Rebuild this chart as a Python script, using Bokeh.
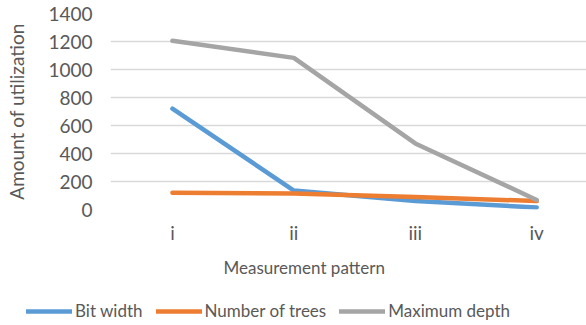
from bokeh.plotting import figure
from bokeh.models import Range1d, FixedTicker, Legend, LegendItem, Title
from bokeh.embed import file_html
from bokeh.resources import INLINE

categories = ["i", "ii", "iii", "iv"]
bit_width = [720, 135, 60, 15]
number_of_trees = [120, 115, 90, 60]
maximum_depth = [1205, 1083, 472, 68]
y_ticks = [0, 200, 400, 600, 800, 1000, 1200, 1400]
series_names = ["Bit width", "Number of trees", "Maximum depth"]
series_colors = ["#5B9BD5", "#ED7D31", "#A5A5A5"]

FONT = "Lato"
TXT = "#595959"
FS = "19px"
FS2 = "17px"

xs = list(range(len(categories)))
series_values = [bit_width, number_of_trees, maximum_depth]

p = figure(width=586, height=290, output_backend="svg", toolbar_location=None,
           x_range=Range1d(-0.51, 3.41), y_range=Range1d(0, 1400),
           min_border_left=110, min_border_right=0, min_border_top=13,
           min_border_bottom=81)
p.outline_line_color = None
p.background_fill_color = "white"
p.border_fill_color = "white"

for vals, col in zip(series_values, series_colors):
    p.line(xs, vals, line_color=col, line_width=4.5, line_cap="round", line_join="round")

p.xaxis.ticker = FixedTicker(ticks=xs)
p.xaxis.major_label_overrides = {i: c for i, c in zip(xs, categories)}
p.yaxis.ticker = FixedTicker(ticks=y_ticks)
p.xgrid.grid_line_color = None
p.ygrid.ticker = FixedTicker(ticks=y_ticks)
p.ygrid.grid_line_color = "#D9D9D9"
p.ygrid.grid_line_width = 1.3

for ax in (p.xaxis, p.yaxis):
    ax.axis_line_color = None
    ax.major_tick_line_color = None
    ax.minor_tick_line_color = None
    ax.major_label_text_font = FONT
    ax.major_label_text_font_size = FS
    ax.major_label_text_color = TXT
    ax.axis_label_text_font = FONT
    ax.axis_label_text_font_size = FS
    ax.axis_label_text_font_style = "normal"
    ax.axis_label_text_color = TXT

p.yaxis.major_label_standoff = 12
p.yaxis.axis_label = "Amount of utilization"
p.yaxis.axis_label_standoff = 17
p.xaxis.major_label_standoff = 5

xtitle = Title(text="Measurement pattern", align="left", offset=113,
               text_font=FONT, text_font_size=FS2, text_font_style="normal",
               text_color=TXT, standoff=16)
p.add_layout(xtitle, "below")

# legend strip (its lines carry the series data, kept outside the visible range)
q = figure(width=586, height=35, output_backend="svg", toolbar_location=None,
           x_range=Range1d(0, 1), y_range=Range1d(-3, -2),
           x_axis_type=None, y_axis_type=None,
           min_border_left=0, min_border_right=0, min_border_top=0, min_border_bottom=0)
q.outline_line_color = None
q.grid.visible = False
q.background_fill_color = "white"
q.border_fill_color = "white"
items = []
for name, vals, col in zip(series_names, series_values, series_colors):
    r = q.line(xs, vals, line_color=col, line_width=4.5, line_cap="round")
    items.append(LegendItem(label=name, renderers=[r]))
legend = Legend(items=items, orientation="horizontal", location=(26, 4),
                border_line_color=None, background_fill_alpha=0,
                glyph_width=46, glyph_height=20, label_standoff=3, spacing=13,
                padding=0, margin=0, label_height=20,
                label_text_font=FONT, label_text_font_size=FS2, label_text_color=TXT)
q.add_layout(legend, "center")

open("out.html", "w").write(file_html([p, q], INLINE))
